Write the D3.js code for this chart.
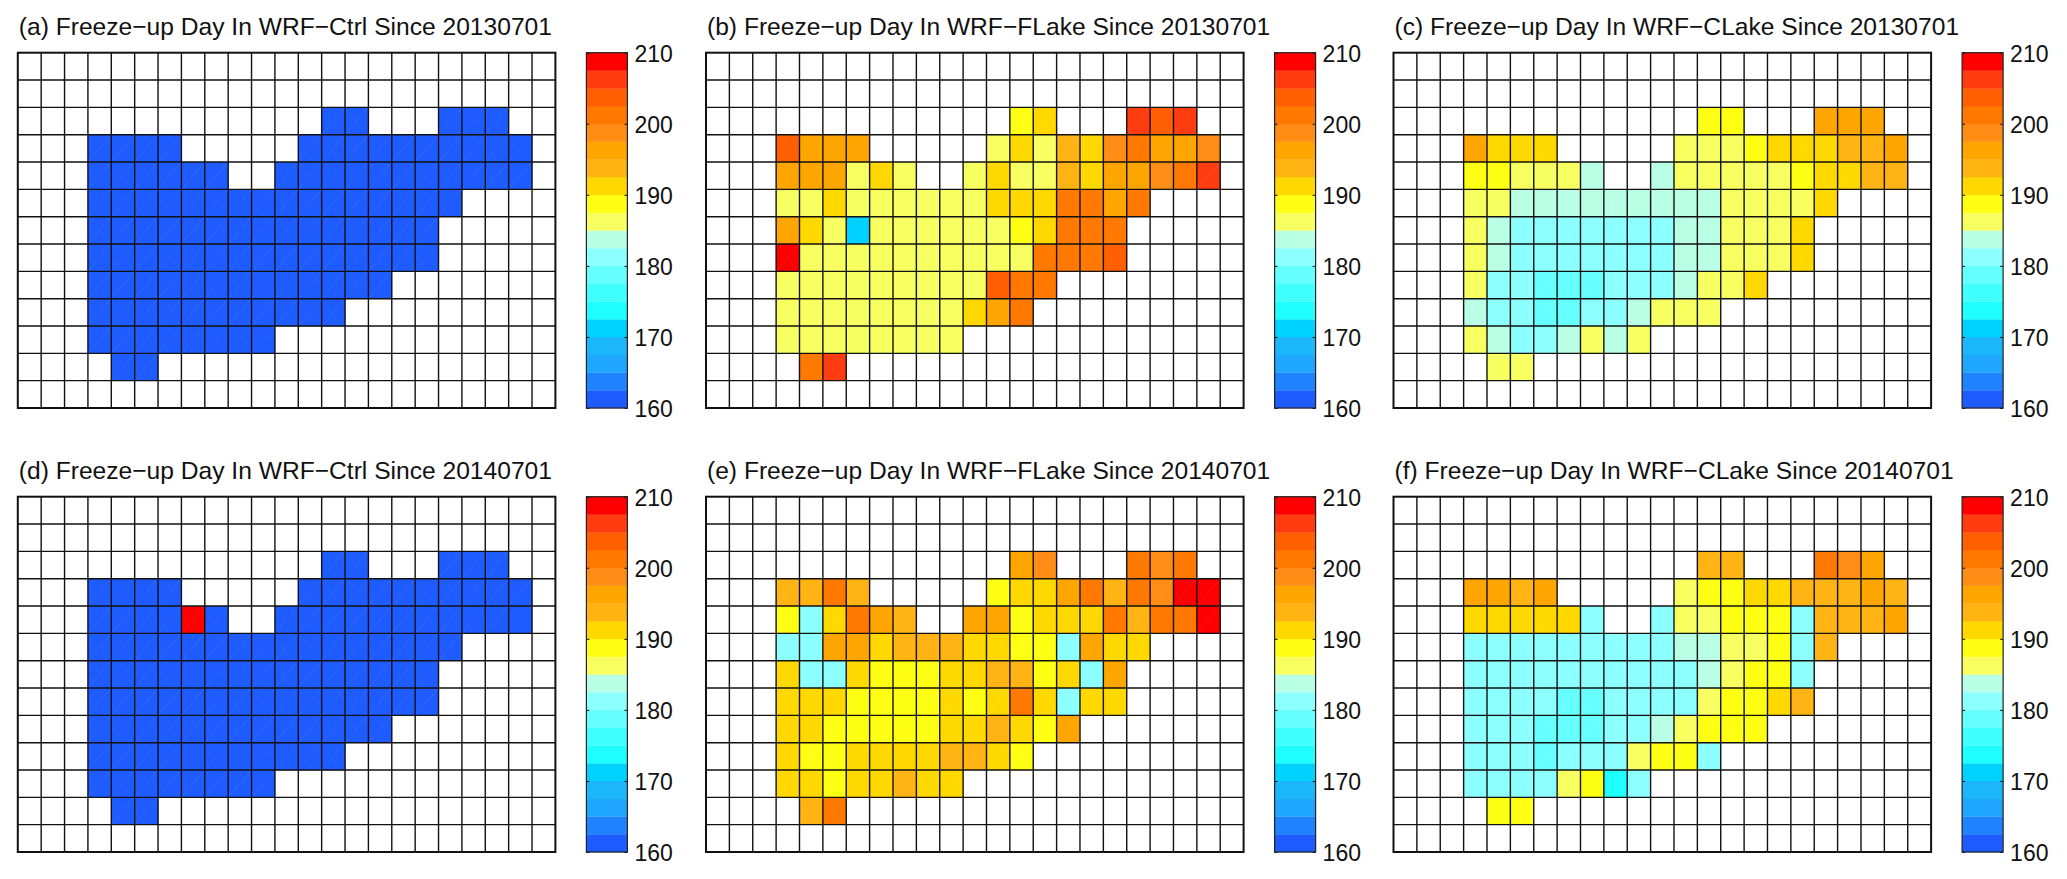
<!DOCTYPE html>
<html>
<head>
<meta charset="utf-8">
<title>Freeze-up Day</title>
<script src="https://cdnjs.cloudflare.com/ajax/libs/d3/7.8.5/d3.min.js"></script>
<style>
  html, body { margin: 0; padding: 0; background: #fff; }
  svg { display: block; }
  text { font-family: "Liberation Sans", Arial, sans-serif; fill: #111; }
</style>
</head>
<body>
<div id="chart"></div>
<script>
// Freeze-up day per grid cell, rows top to bottom, 23 columns. _ = no lake
const _ = null;

const colorBands = [
  "#1f5cff", "#1f82ff", "#1fa6ff", "#1cb6fa", "#00d2ff",
  "#1fffff", "#40ffff", "#66ffff", "#8cffff", "#b8ffe6",
  "#f8ff60", "#ffff14", "#ffd800", "#ffb414", "#ffa500",
  "#ff8c14", "#ff7800", "#ff5f00", "#ff3c10", "#ff0000"
];
const tickValues = [160, 170, 180, 190, 200, 210];

const ctrl2013 = [
  [_,_,_,_,_,_,_,_,_,_,_,_,_,_,_,_,_,_,_,_,_,_,_],
  [_,_,_,_,_,_,_,_,_,_,_,_,_,_,_,_,_,_,_,_,_,_,_],
  [_,_,_,_,_,_,_,_,_,_,_,_,_,161,161,_,_,_,161,161,161,_,_],
  [_,_,_,161,161,161,161,_,_,_,_,_,161,161,161,161,161,161,161,161,161,161,_],
  [_,_,_,161,161,161,161,161,161,_,_,161,161,161,161,161,161,161,161,161,161,161,_],
  [_,_,_,161,161,161,161,161,161,161,161,161,161,161,161,161,161,161,161,_,_,_,_],
  [_,_,_,161,161,161,161,161,161,161,161,161,161,161,161,161,161,161,_,_,_,_,_],
  [_,_,_,161,161,161,161,161,161,161,161,161,161,161,161,161,161,161,_,_,_,_,_],
  [_,_,_,161,161,161,161,161,161,161,161,161,161,161,161,161,_,_,_,_,_,_,_],
  [_,_,_,161,161,161,161,161,161,161,161,161,161,161,_,_,_,_,_,_,_,_,_],
  [_,_,_,161,161,161,161,161,161,161,161,_,_,_,_,_,_,_,_,_,_,_,_],
  [_,_,_,_,161,161,_,_,_,_,_,_,_,_,_,_,_,_,_,_,_,_,_],
  [_,_,_,_,_,_,_,_,_,_,_,_,_,_,_,_,_,_,_,_,_,_,_]
];

const flake2013 = [
  [_,_,_,_,_,_,_,_,_,_,_,_,_,_,_,_,_,_,_,_,_,_,_],
  [_,_,_,_,_,_,_,_,_,_,_,_,_,_,_,_,_,_,_,_,_,_,_],
  [_,_,_,_,_,_,_,_,_,_,_,_,_,189,191,_,_,_,206,204,206,_,_],
  [_,_,_,204,196,196,196,_,_,_,_,_,186,191,186,194,191,199,201,196,196,199,_],
  [_,_,_,196,196,196,186,191,186,_,_,186,191,186,186,194,191,196,196,199,201,206,_],
  [_,_,_,186,186,191,186,186,186,186,186,186,191,191,191,201,201,196,201,_,_,_,_],
  [_,_,_,196,191,186,171,186,186,186,186,186,186,189,191,201,201,201,_,_,_,_,_],
  [_,_,_,209,186,186,186,186,186,186,186,186,186,186,201,201,201,204,_,_,_,_,_],
  [_,_,_,186,186,186,186,186,186,186,186,186,204,201,201,_,_,_,_,_,_,_,_],
  [_,_,_,186,186,186,186,186,186,186,186,191,196,201,_,_,_,_,_,_,_,_,_],
  [_,_,_,186,186,186,186,186,186,186,186,_,_,_,_,_,_,_,_,_,_,_,_],
  [_,_,_,_,201,206,_,_,_,_,_,_,_,_,_,_,_,_,_,_,_,_,_],
  [_,_,_,_,_,_,_,_,_,_,_,_,_,_,_,_,_,_,_,_,_,_,_]
];

const clake2013 = [
  [_,_,_,_,_,_,_,_,_,_,_,_,_,_,_,_,_,_,_,_,_,_,_],
  [_,_,_,_,_,_,_,_,_,_,_,_,_,_,_,_,_,_,_,_,_,_,_],
  [_,_,_,_,_,_,_,_,_,_,_,_,_,189,189,_,_,_,196,196,196,_,_],
  [_,_,_,196,191,191,191,_,_,_,_,_,186,186,186,189,191,191,191,194,194,196,_],
  [_,_,_,189,189,186,186,186,184,_,_,184,186,186,186,186,186,189,191,191,194,194,_],
  [_,_,_,186,186,184,184,184,184,184,184,184,184,184,186,186,186,186,191,_,_,_,_],
  [_,_,_,186,184,181,181,181,181,181,181,181,184,184,186,186,186,191,_,_,_,_,_],
  [_,_,_,186,184,181,181,181,181,181,181,181,184,184,186,186,186,191,_,_,_,_,_],
  [_,_,_,186,181,181,179,179,179,181,181,181,184,186,186,191,_,_,_,_,_,_,_],
  [_,_,_,184,181,181,179,179,181,181,184,186,186,186,_,_,_,_,_,_,_,_,_],
  [_,_,_,186,184,181,181,184,186,184,186,_,_,_,_,_,_,_,_,_,_,_,_],
  [_,_,_,_,186,186,_,_,_,_,_,_,_,_,_,_,_,_,_,_,_,_,_],
  [_,_,_,_,_,_,_,_,_,_,_,_,_,_,_,_,_,_,_,_,_,_,_]
];

const ctrl2014 = [
  [_,_,_,_,_,_,_,_,_,_,_,_,_,_,_,_,_,_,_,_,_,_,_],
  [_,_,_,_,_,_,_,_,_,_,_,_,_,_,_,_,_,_,_,_,_,_,_],
  [_,_,_,_,_,_,_,_,_,_,_,_,_,161,161,_,_,_,161,161,161,_,_],
  [_,_,_,161,161,161,161,_,_,_,_,_,161,161,161,161,161,161,161,161,161,161,_],
  [_,_,_,161,161,161,161,209,161,_,_,161,161,161,161,161,161,161,161,161,161,161,_],
  [_,_,_,161,161,161,161,161,161,161,161,161,161,161,161,161,161,161,161,_,_,_,_],
  [_,_,_,161,161,161,161,161,161,161,161,161,161,161,161,161,161,161,_,_,_,_,_],
  [_,_,_,161,161,161,161,161,161,161,161,161,161,161,161,161,161,161,_,_,_,_,_],
  [_,_,_,161,161,161,161,161,161,161,161,161,161,161,161,161,_,_,_,_,_,_,_],
  [_,_,_,161,161,161,161,161,161,161,161,161,161,161,_,_,_,_,_,_,_,_,_],
  [_,_,_,161,161,161,161,161,161,161,161,_,_,_,_,_,_,_,_,_,_,_,_],
  [_,_,_,_,161,161,_,_,_,_,_,_,_,_,_,_,_,_,_,_,_,_,_],
  [_,_,_,_,_,_,_,_,_,_,_,_,_,_,_,_,_,_,_,_,_,_,_]
];

const flake2014 = [
  [_,_,_,_,_,_,_,_,_,_,_,_,_,_,_,_,_,_,_,_,_,_,_],
  [_,_,_,_,_,_,_,_,_,_,_,_,_,_,_,_,_,_,_,_,_,_,_],
  [_,_,_,_,_,_,_,_,_,_,_,_,_,196,199,_,_,_,201,199,201,_,_],
  [_,_,_,194,194,201,194,_,_,_,_,_,189,191,191,196,201,194,201,199,209,209,_],
  [_,_,_,189,181,191,201,196,194,_,_,196,196,189,191,191,191,201,194,201,201,209,_],
  [_,_,_,181,181,196,196,191,194,194,194,191,191,189,189,181,196,191,191,_,_,_,_],
  [_,_,_,191,181,181,191,189,189,189,191,191,194,194,189,191,181,196,_,_,_,_,_],
  [_,_,_,191,191,191,189,189,189,189,191,189,191,201,191,181,191,191,_,_,_,_,_],
  [_,_,_,191,191,189,189,189,189,189,191,191,194,191,189,196,_,_,_,_,_,_,_],
  [_,_,_,191,189,189,191,191,191,191,194,194,191,189,_,_,_,_,_,_,_,_,_],
  [_,_,_,191,191,189,191,191,194,191,191,_,_,_,_,_,_,_,_,_,_,_,_],
  [_,_,_,_,194,201,_,_,_,_,_,_,_,_,_,_,_,_,_,_,_,_,_],
  [_,_,_,_,_,_,_,_,_,_,_,_,_,_,_,_,_,_,_,_,_,_,_]
];

const clake2014 = [
  [_,_,_,_,_,_,_,_,_,_,_,_,_,_,_,_,_,_,_,_,_,_,_],
  [_,_,_,_,_,_,_,_,_,_,_,_,_,_,_,_,_,_,_,_,_,_,_],
  [_,_,_,_,_,_,_,_,_,_,_,_,_,194,194,_,_,_,201,199,196,_,_],
  [_,_,_,196,196,194,196,_,_,_,_,_,186,189,189,191,191,194,194,194,196,194,_],
  [_,_,_,191,191,191,191,191,181,_,_,181,186,186,189,189,189,181,194,194,194,196,_],
  [_,_,_,181,181,181,181,181,181,181,181,181,184,184,186,186,189,181,194,_,_,_,_],
  [_,_,_,181,181,181,181,181,181,181,181,181,181,184,186,189,189,181,_,_,_,_,_],
  [_,_,_,181,181,181,181,179,179,181,181,181,181,186,189,189,191,194,_,_,_,_,_],
  [_,_,_,181,181,181,179,179,179,181,181,184,186,189,189,189,_,_,_,_,_,_,_],
  [_,_,_,181,181,181,179,181,181,181,186,189,189,181,_,_,_,_,_,_,_,_,_],
  [_,_,_,181,181,181,181,186,189,174,181,_,_,_,_,_,_,_,_,_,_,_,_],
  [_,_,_,_,189,189,_,_,_,_,_,_,_,_,_,_,_,_,_,_,_,_,_],
  [_,_,_,_,_,_,_,_,_,_,_,_,_,_,_,_,_,_,_,_,_,_,_]
];

const panelGrids = [ctrl2013, flake2013, clake2013, ctrl2014, flake2014, clake2014];
const panelTitles = [
  "(a) Freeze\u2212up Day In WRF\u2212Ctrl Since 20130701",
  "(b) Freeze\u2212up Day In WRF\u2212FLake Since 20130701",
  "(c) Freeze\u2212up Day In WRF\u2212CLake Since 20130701",
  "(d) Freeze\u2212up Day In WRF\u2212Ctrl Since 20140701",
  "(e) Freeze\u2212up Day In WRF\u2212FLake Since 20140701",
  "(f) Freeze\u2212up Day In WRF\u2212CLake Since 20140701"
];

// Layout
const totalWidth = 2067, totalHeight = 879;
const colLefts = [17.8, 706, 1393.5];
const rowTops = [52.7, 496.7];
const gridW = 537.6, gridH = 355.3;
const barGap = 31, barW = 41;

const svg = d3.select("#chart").append("svg")
  .attr("width", totalWidth)
  .attr("height", totalHeight);

const xScale = d3.scaleBand().domain(d3.range(23)).range([0, gridW]);
const yScale = d3.scaleBand().domain(d3.range(13)).range([0, gridH]);
const barScale = d3.scaleLinear().domain([160, 210]).range([gridH, 0]);
const colorScale = d3.scaleQuantize().domain([160, 210]).range(colorBands);

panelGrids.forEach((grid, i) => {
  const left = colLefts[i % 3];
  const top = rowTops[Math.floor(i / 3)];
  const g = svg.append("g").attr("transform", `translate(${left},${top})`);

  // Title
  g.append("text")
    .attr("x", 1)
    .attr("y", -18)
    .style("font-size", "24.6px")
    .text(panelTitles[i]);

  // Cells
  const cells = grid.flatMap((row, r) => row.map((v, c) => ({ r, c, v })))
    .filter(d => d.v !== null);

  g.append("g").selectAll("rect")
    .data(cells)
    .join("rect")
    .attr("x", d => xScale(d.c))
    .attr("y", d => yScale(d.r))
    .attr("width", xScale.bandwidth() + 0.3)
    .attr("height", yScale.bandwidth() + 0.3)
    .attr("fill", d => colorScale(d.v));

  // faint seam across every cell
  g.append("g").selectAll("line")
    .data(cells)
    .join("line")
    .attr("x1", d => xScale(d.c))
    .attr("y1", d => yScale(d.r) + yScale.bandwidth())
    .attr("x2", d => xScale(d.c) + xScale.bandwidth())
    .attr("y2", d => yScale(d.r))
    .attr("stroke", "#fff")
    .attr("stroke-opacity", 0.07)
    .attr("stroke-width", 1);

  // Grid lines
  g.append("g").selectAll("line")
    .data(d3.range(1, 23))
    .join("line")
    .attr("x1", d => xScale(d))
    .attr("x2", d => xScale(d))
    .attr("y1", 0)
    .attr("y2", gridH)
    .attr("stroke", "#111")
    .attr("stroke-width", 1.4);

  g.append("g").selectAll("line")
    .data(d3.range(1, 13))
    .join("line")
    .attr("x1", 0)
    .attr("x2", gridW)
    .attr("y1", d => yScale(d))
    .attr("y2", d => yScale(d))
    .attr("stroke", "#111")
    .attr("stroke-width", 1.4);

  g.append("rect")
    .attr("width", gridW)
    .attr("height", gridH)
    .attr("fill", "none")
    .attr("stroke", "#111")
    .attr("stroke-width", 2);

  // Colorbar
  const bar = g.append("g").attr("transform", `translate(${gridW + barGap},0)`);

  bar.append("g").selectAll("rect")
    .data(colorBands)
    .join("rect")
    .attr("x", 0)
    .attr("y", (d, k) => barScale(160 + (k + 1) * 2.5))
    .attr("width", barW)
    .attr("height", (d, k) => barScale(160 + k * 2.5) - barScale(160 + (k + 1) * 2.5) + 0.3)
    .attr("fill", d => d);

  const rightAxis = bar.append("g")
    .attr("transform", `translate(${barW},0)`)
    .call(d3.axisRight(barScale).tickValues(tickValues).tickSizeInner(-3).tickSizeOuter(0).tickPadding(7));
  rightAxis.select(".domain").remove();
  rightAxis.selectAll("line").attr("stroke", "#111");
  rightAxis.selectAll("text")
    .attr("dy", "0.37em")
    .style("font-size", "23px")
    .style("fill", "#111");

  const leftAxis = bar.append("g")
    .call(d3.axisRight(barScale).tickValues(tickValues).tickSizeInner(3).tickSizeOuter(0).tickFormat(""));
  leftAxis.select(".domain").remove();
  leftAxis.selectAll("line").attr("stroke", "#111");

  bar.append("rect")
    .attr("width", barW)
    .attr("height", gridH)
    .attr("fill", "none")
    .attr("stroke", "#222")
    .attr("stroke-width", 1.2);
});
</script>
</body>
</html>
